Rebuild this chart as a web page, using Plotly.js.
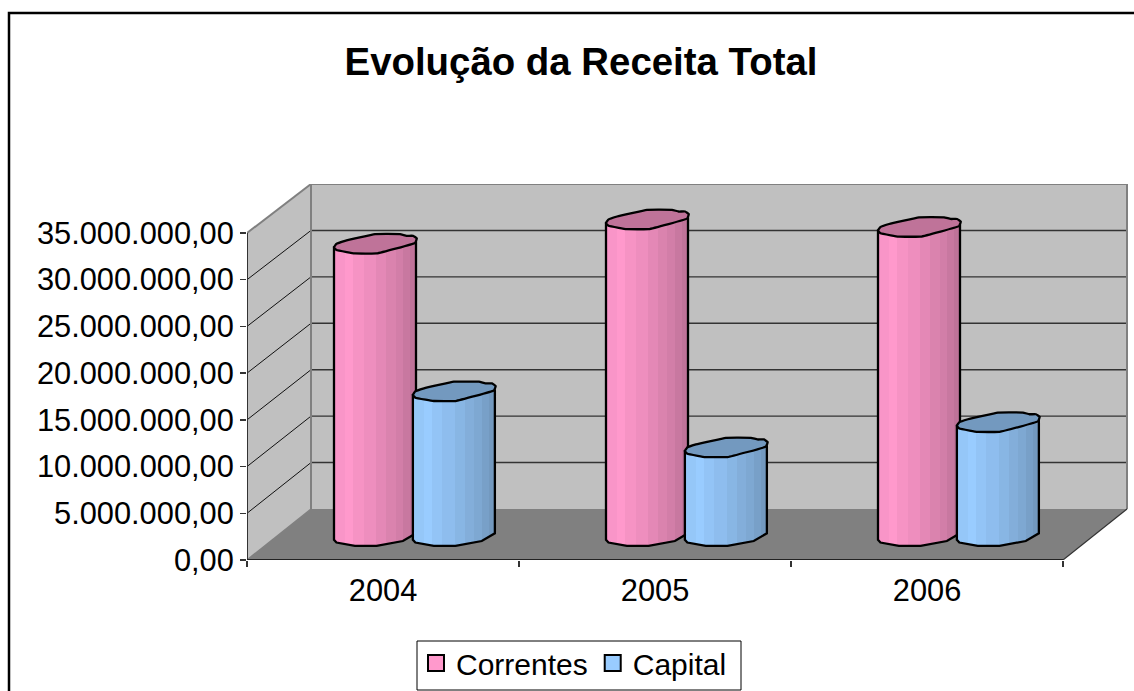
<!DOCTYPE html>
<html><head><meta charset="utf-8">
<script src="https://cdn.plot.ly/plotly-3.0.1.min.js"></script>
<style>html,body{margin:0;padding:0;background:#fff;overflow:hidden}#c{width:1134px;height:691px}</style>
</head><body><div id="c"></div>
<script>
var years = ['2004','2005','2006'];
var correntes = [31300000, 33900000, 33100000];
var capital = [15500000, 9500000, 12200000];
var yTickValues = [0,5000000,10000000,15000000,20000000,25000000,30000000,35000000];
var yTickLabels = ['0,00','5.000.000,00','10.000.000,00','15.000.000,00','20.000.000,00','25.000.000,00','30.000.000,00','35.000.000,00'];
var chartTitle = 'Evolução da Receita Total';

// oblique projection in axis units
var W=1134,H=691,L=247,R=1128,T=184,B=560;
var pxX=272, pxY=327/35e6;
var depthX=64/pxX, depthY=51/pxY;
var yMax=(B-T)/pxY, xMax=(R-L)/pxX, nCat=years.length, vMax=35e6;
function back(x,y){return [x+depthX,y*(325/327)+depthY];}

var FONT='"Liberation Sans", Arial, sans-serif';
var traces=[];
function poly(pts,fill,line,lw){
  var xs=pts.map(function(p){return p[0]}),ys=pts.map(function(p){return p[1]});
  xs.push(xs[0]);ys.push(ys[0]);
  return {x:xs,y:ys,type:'scatter',mode:lw?'lines':'none',fill:'toself',fillcolor:fill,
    line:{color:line||fill,width:lw||0},showlegend:false,hoverinfo:'skip',cliponaxis:false};
}
function seg(a,b,color,w){
  return {x:[a[0],b[0]],y:[a[1],b[1]],type:'scatter',mode:'lines',line:{color:color,width:w},
    showlegend:false,hoverinfo:'skip',cliponaxis:false};
}
var GR='#808080';
// walls and floor
var A=[0,0],Bk=back(0,0),Tp=[0,vMax],BkT=back(0,vMax),Rf=[nCat,0],RB=back(nCat,0),RT=back(nCat,vMax);
traces.push(poly([Bk,RB,RT,BkT],'#C0C0C0'));
traces.push(poly([A,Bk,BkT,Tp],'#C0C0C0'));
traces.push(poly([A,Rf,RB,Bk],'#808080'));
// grid
yTickValues.forEach(function(v){
  if(v===0||v===vMax)return;
  traces.push(seg([0,v],back(0,v),'#111',1));
  traces.push(seg(back(0,v),back(nCat,v),'#333',1.4));
});
// wall edges
traces.push(seg(Tp,BkT,GR,2));
traces.push(seg(BkT,RT,GR,2));
traces.push(seg(RT,RB,GR,2));
traces.push(seg(Bk,BkT,GR,2));
traces.push(seg(A,Bk,GR,1.5));
traces.push(seg(Rf,RB,'#333',1.2));
// axis lines
traces.push(seg(A,Tp,'#333',2));
traces.push(seg(A,Rf,'#222',2));

// cylinder outline, in radius units
var topOutline=[[-1,.38],[-.95,.05],[-.73,-.28],[0,-.95],[.61,-.95],[.77,-.78],[.93,-.78],[1.02,-.52],[.98,-.08],[.04,.98],[-.49,.98],[-.69,.85],[-.94,.65]];
var bottomOutline=[[1,-.27],[.68,.5],[.04,.98],[-.49,.98],[-.69,.85],[-.94,.65],[-1,.38]];
var rx=41/pxX, ry=10/pxY, midDepth=.47;
var stops=[0,.13,.23,.36,.51,.63,.75,.84,.93,1];
function bands(c){ // c = array of colours for each band
  var s=[];
  for(var i=0;i<c.length;i++){s.push([stops[i],c[i]]);s.push([stops[i+1],c[i]]);}
  return s;
}
var pinkBands=['#F995C8','#FF99CC','#F693C4','#EE8EBE','#E488B6','#DA83AE','#D27EA8','#C878A0','#BF7399'];
var blueBands=['#95C7F8','#99CCFF','#93C4F6','#8EBDEE','#88B6E4','#83AEDA','#7EA8D2','#78A0C8','#7399BF'];
function cyl(cx,val,band,topColor){
  var x0=cx+depthX*midDepth, y0=depthY*midDepth;
  var body=[[1,-.2,val]];
  bottomOutline.forEach(function(o){body.push([o[0],o[1],0]);});
  body.push([-1,.38,val]);
  var bx=body.map(function(p){return x0+p[0]*rx}),by=body.map(function(p){return y0+p[2]-p[1]*ry});
  bx.push(bx[0]);by.push(by[0]);
  traces.push({x:bx,y:by,type:'scatter',mode:'lines',fill:'toself',
    fillgradient:{type:'horizontal',colorscale:bands(band)},
    line:{color:'#000',width:2.3},showlegend:false,hoverinfo:'skip',cliponaxis:false});
  var t=topOutline.map(function(o){return [x0+o[0]*rx,y0+val-o[1]*ry]});
  var tr=poly(t,topColor,'#000',2.3);
  tr.line.shape='spline';tr.line.smoothing=.25;
  traces.push(tr);
}
years.forEach(function(y,i){
  cyl(i+.36,correntes[i],pinkBands,'#BF7399');
  cyl(i+.65,capital[i],blueBands,'#7399BF');
});
// legend entries
[['Correntes','#FF99CC'],['Capital','#99CCFF']].forEach(function(e){
  traces.push({x:[null],y:[null],type:'scatter',mode:'markers',name:e[0],
    marker:{symbol:'square',size:16,color:e[1],line:{color:'#000',width:2}},hoverinfo:'skip'});
});

function paperX(px){return (px-L)/(R-L);}
function paperY(py){return (H-py)/(H-T);}
var layout={
  width:W,height:H,paper_bgcolor:'#fff',plot_bgcolor:'rgba(0,0,0,0)',
  margin:{l:L,r:W-R,t:T,b:0,pad:0},
  font:{family:FONT,size:30,color:'#000'},
  title:{text:'<b>'+chartTitle+'</b>',font:{family:FONT,size:38.4,color:'#000'},
    x:581/W,xanchor:'center',xref:'container',yref:'container',y:1-62/H,yanchor:'middle'},
  xaxis:{range:[0,xMax],tickmode:'array',tickvals:[.5,1.5,2.5],ticktext:years,
    showgrid:false,zeroline:false,showline:false,ticks:'outside',ticklen:3,tickcolor:'rgba(0,0,0,0)',
    tickfont:{size:30.8},
    minor:{tickmode:'array',tickvals:[0,1,2,3],ticks:'outside',ticklen:6,tickcolor:'#333',tickwidth:1.5,showgrid:false}},
  yaxis:{range:[0,yMax],domain:[(H-B)/(H-T),1],tickmode:'array',tickvals:yTickValues,ticktext:yTickLabels,
    showgrid:false,zeroline:false,showline:false,ticks:'outside',ticklen:6,tickcolor:'#333',tickwidth:1.5,
    tickfont:{size:30.8}},
  legend:{orientation:'h',x:paperX(416),y:paperY(637),xanchor:'left',yanchor:'top',
    bgcolor:'rgba(0,0,0,0)',borderwidth:0,font:{size:30},traceorder:'normal'},
  shapes:[
    {type:'path',xref:'paper',yref:'paper',
     path:'M '+paperX(9)+' '+paperY(720)+' L '+paperX(9)+' '+paperY(13)+' L '+paperX(1160)+' '+paperY(13),
     line:{color:'#000',width:2.5},layer:'below'},
    {type:'rect',xref:'paper',yref:'paper',x0:paperX(417),x1:paperX(741),y0:paperY(690),y1:paperY(641),
     line:{color:'#000',width:1},fillcolor:'#fff',layer:'below'}
  ]
};
Plotly.newPlot('c',traces,layout,{displayModeBar:false,staticPlot:true});
</script></body></html>
